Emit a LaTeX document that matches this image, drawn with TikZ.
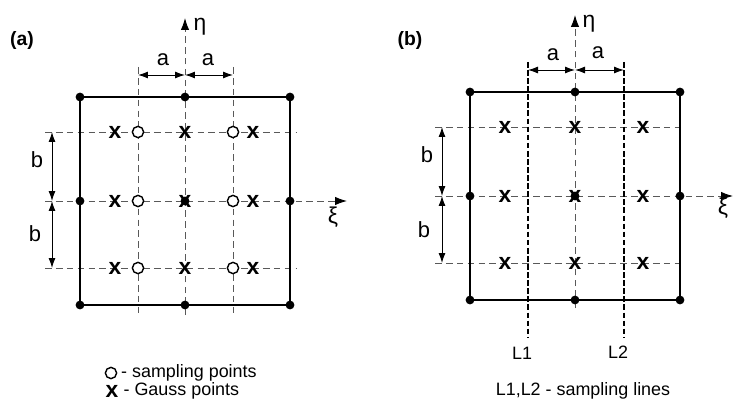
\documentclass[tikz,border=0pt]{standalone}
\usepackage{fontspec}
\setmainfont{Liberation Sans}
\usetikzlibrary{arrows.meta,positioning}

\begin{document}
\begin{tikzpicture}[
  x=0.02cm, y=-0.02cm,
  frame/.style={line width=1.3pt},
  guide/.style={draw=black!65, line width=0.55pt, dash pattern=on 3.8pt off 2.4pt},
  axis/.style={guide, -{Latex[length=2.4mm,width=1.7mm,color=black]}},
  dim/.style={{Latex[length=2mm,width=1.4mm]}-{Latex[length=2mm,width=1.4mm]}, line width=0.55pt},
  sline/.style={line width=1.6pt, dash pattern=on 3.2pt off 1.4pt},
  dot/.style={circle, fill=black, inner sep=0pt, minimum size=5pt},
  spt/.style={circle, draw, fill=white, line width=0.8pt, inner sep=0pt, minimum size=6.4pt},
  gpt/.style={inner sep=0pt, font=\fontsize{13}{13}\selectfont\bfseries},
  lbl/.style={inner sep=0pt, font=\fontsize{12.5}{14}\selectfont},
  greek/.style={inner sep=0pt, font=\fontsize{13}{14}\selectfont},
  panel/.style={inner sep=0pt, font=\fontsize{11}{13}\selectfont\bfseries},
  note/.style={inner sep=0pt, font=\fontsize{10.2}{12}\selectfont},
]
  \useasboundingbox (0,0) rectangle (741,402);

  % ---------- (a) ----------
  \node[panel] (pa) at (22,41) {(a)};

  \coordinate (a-eta0) at (185,315);
  \coordinate (a-eta1) at (185,18);
  \coordinate (a-xi0) at (45,201);
  \coordinate (a-xi1) at (347,201);

  \draw[guide] (138,67) -- (138,315);
  \draw[guide] (233,67) -- (233,315);
  \draw[guide] (45,132) -- (297,132);
  \draw[guide] (45,268) -- (297,268);
  \draw[axis] (a-eta0) -- (a-eta1);
  \draw[axis] (a-xi0) -- (a-xi1);

  \node[greek] (a-eta) at (200,27) {η};
  \node[greek] (a-xi) at (333,217) {ξ};

  \draw[frame] (80,97) rectangle (290,305);
  \foreach \x/\y [count=\i] in {80/97,185/97,290/97,80/201,290/201,80/305,185/305,290/305}
    \node[dot] (a-n\i) at (\x,\y) {};
  \node[dot] (a-c) at (185,201) {};

  % sampling and Gauss points
  \foreach \y [count=\j] in {132,201,268} {
    \node[spt] (a-s\j l) at (138,\y) {};
    \node[spt] (a-s\j r) at (233,\y) {};
    \node[gpt] (a-g\j l) at (115,\y) {x};
    \node[gpt] (a-g\j m) at (185,\y) {x};
    \node[gpt] (a-g\j r) at (253,\y) {x};
  }

  % dimensions
  \coordinate (a-dl) at (138,75);
  \coordinate (a-dm) at (185,75);
  \coordinate (a-dr) at (233,75);
  \draw[dim] (a-dl) -- (a-dm);
  \draw[dim] (a-dm) -- (a-dr);
  \node[lbl] (a-a1) at (163,60) {a};
  \node[lbl] (a-a2) at (208,60) {a};
  \coordinate (a-dt) at (52,132);
  \coordinate (a-dc) at (52,201);
  \coordinate (a-db) at (52,268);
  \draw[dim] (a-dt) -- (a-dc);
  \draw[dim] (a-dc) -- (a-db);
  \node[lbl] (a-b1) at (37,160) {b};
  \node[lbl] (a-b2) at (35,234) {b};

  % legend
  \node[spt] (leg-o) at (111,373) {};
  \node[note, right=2pt of leg-o] (leg-ot) {- sampling points};
  \node[gpt] (leg-x) at (112,391) {x};
  \node[note, right=2.6pt of leg-x] (leg-xt) {- Gauss points};

  % ---------- (b) ----------
  \node[panel] (pb) at (410,41) {(b)};

  \coordinate (b-eta0) at (575,308);
  \coordinate (b-eta1) at (575,15);
  \coordinate (b-xi0) at (435,196);
  \coordinate (b-xi1) at (733,196);

  \draw[guide] (435,127) -- (685,127);
  \draw[guide] (435,263) -- (685,263);
  \draw[axis] (b-eta0) -- (b-eta1);
  \draw[axis] (b-xi0) -- (b-xi1);

  \node[greek] (b-eta) at (589,24) {η};
  \node[greek] (b-xi) at (723,208) {ξ};

  \draw[frame] (470,92) rectangle (680,300);
  \foreach \x/\y [count=\i] in {470/92,575/92,680/92,470/196,680/196,470/300,575/300,680/300}
    \node[dot] (b-n\i) at (\x,\y) {};
  \node[dot] (b-c) at (575,196) {};

  % sampling lines
  \coordinate (l1t) at (528,62);
  \coordinate (l1b) at (528,337);
  \coordinate (l2t) at (624,62);
  \coordinate (l2b) at (624,337);
  \draw[sline] (l1t) -- (l1b);
  \draw[sline] (l2t) -- (l2b);
  \node[note] (l1) at (522,353) {L1};
  \node[note] (l2) at (618,352) {L2};

  % Gauss points
  \foreach \y [count=\j] in {127,196,263} {
    \node[gpt] (b-g\j l) at (505,\y) {x};
    \node[gpt] (b-g\j m) at (575,\y) {x};
    \node[gpt] (b-g\j r) at (643,\y) {x};
  }

  % dimensions
  \coordinate (b-dl) at (528,70);
  \coordinate (b-dm) at (575,70);
  \coordinate (b-dr) at (624,70);
  \draw[dim] (b-dl) -- (b-dm);
  \draw[dim] (b-dm) -- (b-dr);
  \node[lbl] (b-a1) at (553,55) {a};
  \node[lbl] (b-a2) at (598,53) {a};
  \coordinate (b-dt) at (442,127);
  \coordinate (b-dc) at (442,196);
  \coordinate (b-db) at (442,263);
  \draw[dim] (b-dt) -- (b-dc);
  \draw[dim] (b-dc) -- (b-db);
  \node[lbl] (b-b1) at (427,155) {b};
  \node[lbl] (b-b2) at (424,230) {b};

  \node[note] (leg-l) at (583,391) {L1,L2 - sampling lines};
\end{tikzpicture}
\end{document}
